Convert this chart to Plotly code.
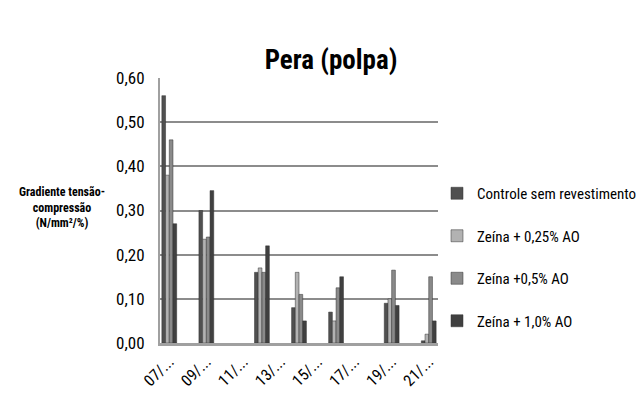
import plotly.graph_objects as go

categories = ["07/...", "08/...", "09/...", "10/...", "11/...", "12/...", "13/...", "14/...",
              "15/...", "16/...", "17/...", "18/...", "19/...", "20/...", "21/..."]
tick_labels = ["07/...", "09/...", "11/...", "13/...", "15/...", "17/...", "19/...", "21/..."]

series_names = ["Controle sem revestimento", "Zeína + 0,25% AO", "Zeína +0,5% AO", "Zeína + 1,0% AO"]
controle = [0.56, None, 0.30, None, None, 0.16, None, 0.08, None, 0.07, None, None, 0.09, None, 0.005]
zeina025 = [0.38, None, 0.235, None, None, 0.17, None, 0.16, None, 0.05, None, None, 0.10, None, 0.02]
zeina05 = [0.46, None, 0.24, None, None, 0.16, None, 0.11, None, 0.125, None, None, 0.165, None, 0.15]
zeina10 = [0.27, None, 0.345, None, None, 0.22, None, 0.05, None, 0.15, None, None, 0.085, None, 0.05]
y_ticks = [0, 0.1, 0.2, 0.3, 0.4, 0.5, 0.6]
y_tick_text = ["0,00", "0,10", "0,20", "0,30", "0,40", "0,50", "0,60"]

colors = ["#505050", "#b2b2b2", "#8a8a8a", "#404040"]
font = "Liberation Sans Narrow, Arial Narrow, Roboto Condensed, sans-serif"

PL, PR, PT, PB = 160, 438, 78, 343
pw, ph = PR - PL, PB - PT

fig = go.Figure()
for i, (name, vals, c) in enumerate(zip(series_names, [controle, zeina025, zeina05, zeina10], colors)):
    fig.add_trace(go.Bar(x=categories, y=vals, name=name, legendgroup=f"g{i}",
                         marker=dict(color=c, line=dict(color="#303030", width=0.5))))

fig.update_layout(
    width=639, height=408,
    margin=dict(l=PL, r=639 - PR, t=PT, b=408 - PB, autoexpand=False),
    paper_bgcolor="white", plot_bgcolor="white",
    barmode="group", bargap=0.2, bargroupgap=0.0,
    title=dict(text="<b>Pera (polpa)</b>", x=331 / 639, xanchor="center",
               y=1 - 60 / 408, yanchor="middle",
               font=dict(family=font, size=27, color="black")),
    font=dict(family=font, color="black"),
    showlegend=True,
    legend=dict(x=(437 - PL) / pw, xanchor="left", y=(PB - 177) / ph, yanchor="top",
                font=dict(family=font, size=15, color="black"),
                tracegroupgap=20, itemwidth=30, bgcolor="rgba(0,0,0,0)"),
    xaxis=dict(type="category", categoryorder="array", categoryarray=categories,
               tickvals=tick_labels, ticktext=tick_labels, tickangle=-45,
               tickfont=dict(family=font, size=16, color="black"),
               showline=True, linecolor="#a0a0a0", linewidth=3, ticks="",
               showgrid=False, mirror=False),
    yaxis=dict(range=[0, 0.6], tickvals=y_ticks, ticktext=y_tick_text,
               tickfont=dict(family=font, size=17, color="black"),
               showgrid=True, gridcolor="#8c8c8c", gridwidth=2,
               showline=True, linecolor="#a0a0a0", linewidth=2, ticks="",
               ticklabelstandoff=10, zeroline=False),
    annotations=[dict(text="<b>Gradiente tensão-<br>compressão<br>(N/mm²/%)</b>",
                      xref="paper", yref="paper", x=(62 - PL) / pw, y=(PB - 207) / ph,
                      xanchor="center", yanchor="middle", showarrow=False, align="center",
                      font=dict(family=font, size=12, color="black"))],
)
fig.write_html("out.html")
